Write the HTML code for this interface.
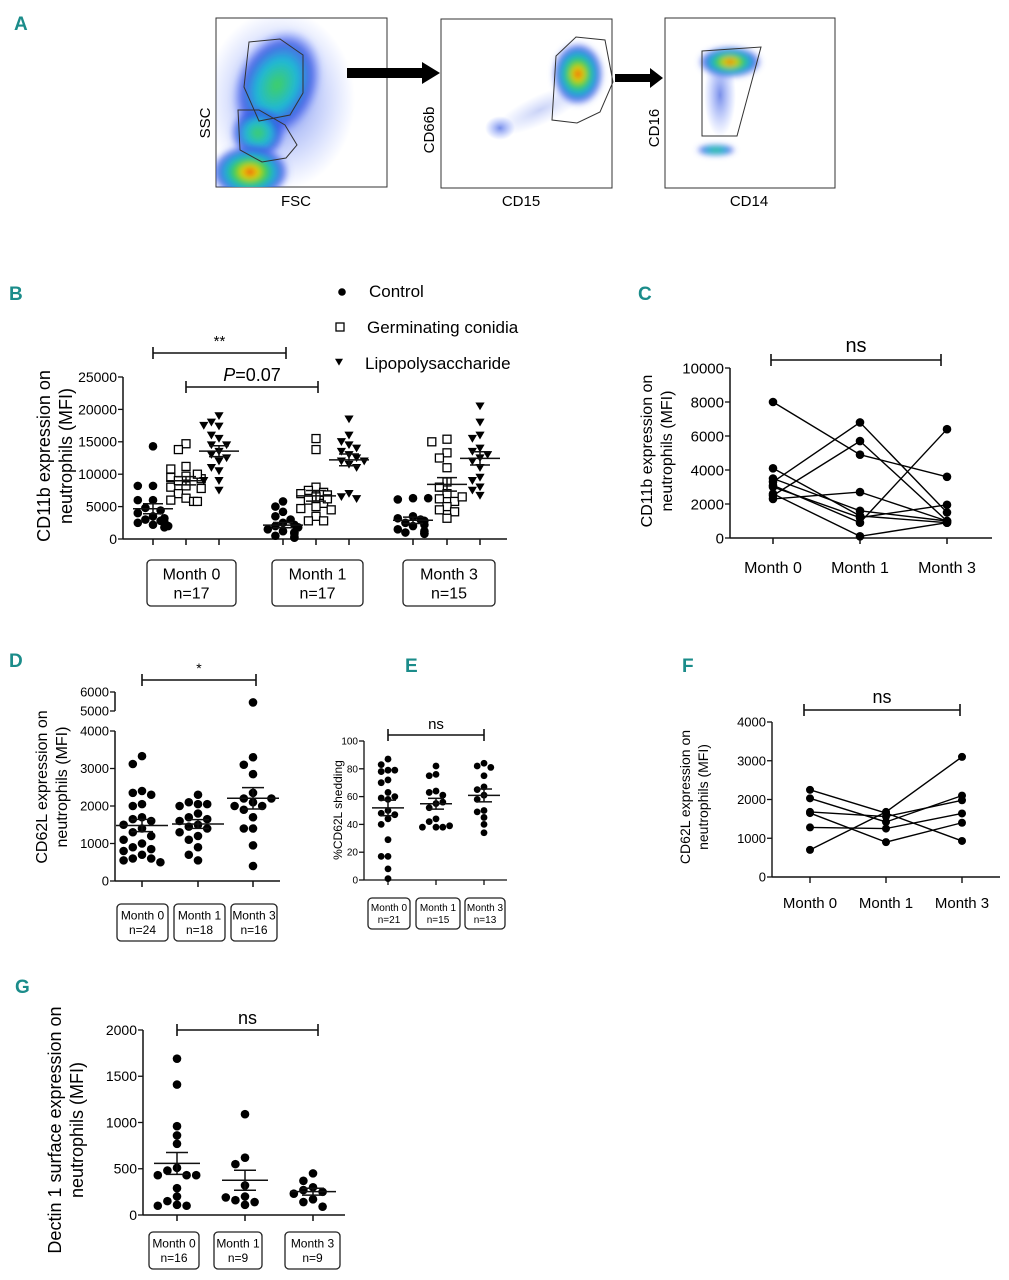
<!DOCTYPE html>
<html><head><meta charset="utf-8"><style>
html,body{margin:0;padding:0;background:#fff;}
svg{display:block;font-family:"Liberation Sans",Arial,sans-serif;}
.lbl{font-family:"Liberation Sans",sans-serif;font-weight:bold;fill:#1b8c8a;font-size:19px;}
</style></head><body>
<svg id="fig" width="1009" height="1280" viewBox="0 0 1009 1280" xmlns="http://www.w3.org/2000/svg">
<defs>
<filter id="blur" x="-50%" y="-50%" width="200%" height="200%"><feGaussianBlur stdDeviation="3"/></filter>
<radialGradient id="dens" cx="50%" cy="50%" r="50%">
<stop offset="0" stop-color="#e01010"/><stop offset="0.18" stop-color="#f5d000"/><stop offset="0.38" stop-color="#3fd040"/><stop offset="0.6" stop-color="#1ab0d8"/><stop offset="0.8" stop-color="#3050e0" stop-opacity="0.8"/><stop offset="1" stop-color="#5070ff" stop-opacity="0"/></radialGradient>
<radialGradient id="dens2" cx="50%" cy="50%" r="50%">
<stop offset="0" stop-color="#40d060"/><stop offset="0.45" stop-color="#20b8d8"/><stop offset="0.75" stop-color="#3050e0" stop-opacity="0.8"/><stop offset="1" stop-color="#5070ff" stop-opacity="0"/></radialGradient>
<radialGradient id="dens3" cx="50%" cy="50%" r="50%">
<stop offset="0" stop-color="#4060e0" stop-opacity="0.7"/><stop offset="1" stop-color="#6080ff" stop-opacity="0"/></radialGradient>
<clipPath id="c1"><rect x="216" y="18" width="171" height="169"/></clipPath>
<clipPath id="c2"><rect x="441" y="19" width="171" height="169"/></clipPath>
<clipPath id="c3"><rect x="665" y="18" width="170" height="170"/></clipPath>
</defs>

<g>
<text class="lbl" x="14" y="30">A</text>
<g>
<rect x="216" y="18" width="171" height="169" fill="#fff" stroke="#333" stroke-width="1"/>
<g clip-path="url(#c1)">
<ellipse cx="280" cy="100" rx="75" ry="90" fill="url(#dens3)"/>
<ellipse cx="277" cy="85" rx="42" ry="58" fill="url(#dens2)" transform="rotate(25 277 85)" filter="url(#blur)"/>
<ellipse cx="258" cy="133" rx="28" ry="27" fill="url(#dens2)" filter="url(#blur)"/>
<ellipse cx="250" cy="172" rx="40" ry="28" fill="url(#dens)" filter="url(#blur)"/>
</g>
<polygon points="249,42 280,39 303,55 303,93 290,115 259,121 244,87" fill="none" stroke="#333" stroke-width="1"/>
<polygon points="238,110 259,110 285,125 297,145 286,158 262,162 240,150" fill="none" stroke="#333" stroke-width="1"/>
<text x="210" y="123" font-size="15" text-anchor="middle" transform="rotate(-90 210 123)">SSC</text>
<text x="296" y="206" font-size="15" text-anchor="middle">FSC</text>
</g>
<polygon points="347,68 422,68 422,62 440,73 422,84 422,78 347,78" fill="#000"/>
<g>
<rect x="441" y="19" width="171" height="169" fill="#fff" stroke="#333"/>
<g clip-path="url(#c2)">
<ellipse cx="500" cy="128" rx="15" ry="12" fill="url(#dens3)"/>
<ellipse cx="540" cy="110" rx="50" ry="15" fill="url(#dens3)" opacity="0.4" transform="rotate(-25 540 110)"/>
<ellipse cx="578" cy="74" rx="26" ry="32" fill="url(#dens)" filter="url(#blur)"/>
</g>
<polygon points="556,56 576,37 605,40 613,82 600,112 577,123 552,120" fill="none" stroke="#333"/>
<text x="434" y="130" font-size="15" text-anchor="middle" transform="rotate(-90 434 130)">CD66b</text>
<text x="521" y="206" font-size="15" text-anchor="middle">CD15</text>
</g>
<polygon points="615,74 650,74 650,68 663,78 650,88 650,82 615,82" fill="#000"/>
<g>
<rect x="665" y="18" width="170" height="170" fill="#fff" stroke="#333"/>
<g clip-path="url(#c3)">
<ellipse cx="720" cy="95" rx="16" ry="42" fill="url(#dens3)"/>
<ellipse cx="730" cy="62" rx="32" ry="16" fill="url(#dens)" filter="url(#blur)"/>
<ellipse cx="716" cy="150" rx="20" ry="6" fill="url(#dens2)" filter="url(#blur)"/>
</g>
<polygon points="702,51 761,47 737,136 702,136" fill="none" stroke="#333"/>
<text x="659" y="128" font-size="15" text-anchor="middle" transform="rotate(-90 659 128)">CD16</text>
<text x="749" y="206" font-size="15" text-anchor="middle">CD14</text>
</g>
</g>

<text class="lbl" x="9" y="300">B</text>
<text class="lbl" x="638" y="300">C</text>
<text class="lbl" x="9" y="667">D</text>
<text class="lbl" x="405" y="672">E</text>
<text class="lbl" x="682" y="672">F</text>
<text class="lbl" x="15" y="993">G</text>
</svg>
<script>
// ---- data ----
const monthLabels = ["Month 0","Month 1","Month 3"];
const bTicks = [0,5000,10000,15000,20000,25000];
const bControl = [
 [14300,8200,8200,6000,6000,4800,4400,4000,3500,3000,2800,2500,2200,2000,1800,2600,3200],
 [5800,5000,4200,3500,3000,2500,2000,1800,1500,1200,1000,800,500,300,200,2200,1000],
 [6300,6100,6300,3500,3200,3000,2800,2500,2200,2000,1500,1200,1000,900,800]];
const bConidia = [
 [14700,13800,11200,10800,9700,9500,9300,8200,8000,7800,7000,6300,6000,5800,5800,10000,9000],
 [15500,13800,8000,7500,7200,7000,6800,6500,6000,5500,5000,4700,4500,3500,2800,2800,6200],
 [15400,15000,13300,12500,11000,8800,8000,7000,6200,5800,5000,4500,4200,3200,6500]];
const bLPS = [
 [19000,18000,17400,17500,15500,14500,14500,13500,13000,12500,12000,11000,10500,9000,9000,7500,16000],
 [18500,16000,15000,14500,14000,13500,13000,12500,12000,12000,11500,11000,7000,6500,6200],
 [20500,18000,16000,15500,14000,13500,13000,12500,12000,11000,9500,9000,8000,7500,6700]];
const bN = ["n=17","n=17","n=15"];
const cTicks = [0,2000,4000,6000,8000,10000];
const cM0 = [8000,4100,3500,3300,3100,2500,2300,2600,3000];
const cM1 = [4900,1300,1600,6800,900,5700,2700,100,1200];
const cM3 = [3600,900,1000,1500,6400,1000,1000,900,1950];
const dTicks = [0,1000,2000,3000,4000];
const dTicksUpper = [5000,6000];
const dVals = [
 [3330,3120,2400,2350,2300,2050,2000,1700,1650,1600,1500,1400,1300,1200,1000,900,850,800,700,600,600,550,500,1100],
 [2300,2050,2100,2050,2000,1800,1700,1650,1600,1500,1450,1400,1300,1200,900,700,550,1100],
 [5450,3300,3100,2850,2350,2200,2100,2000,2000,1900,1700,1400,1400,950,400,2200]];
const dN = ["n=24","n=18","n=16"];
const eTicks = [0,20,40,60,80,100];
const eVals = [
 [87,83,79,79,78,72,70,63,59,58,50,48,47,44,40,29,17,17,8,1,60],
 [82,76,75,64,63,61,55,52,44,42,38,38,38,39,56],
 [84,82,81,75,67,65,61,58,50,49,45,40,34]];
const eN = ["n=21","n=15","n=13"];
const fTicks = [0,1000,2000,3000,4000];
const fM0 = [2250,2030,1680,1650,1280,700];
const fM1 = [1650,1420,1560,900,1250,1680];
const fM3 = [930,2100,1980,1400,1640,3100];
const gTicks = [0,500,1000,1500,2000];
const gVals = [
 [1690,1410,960,860,770,510,480,430,430,430,290,200,150,110,100,100],
 [1090,620,550,320,200,160,140,110,190],
 [450,370,300,270,250,230,170,140,90]];
const gN = ["n=16","n=9","n=9"];

// ---- helpers ----
const NS="http://www.w3.org/2000/svg";
const svg=document.getElementById('fig');
function mk(tag,attrs,parent,txt){const e=document.createElementNS(NS,tag);for(const k in attrs)e.setAttribute(k,attrs[k]);if(txt!==undefined)e.textContent=txt;(parent||svg).appendChild(e);return e;}
function line(p,x1,y1,x2,y2,w){return mk('line',{x1,y1,x2,y2,stroke:'#111','stroke-width':w||1.5},p);}
function lin(d0,d1,r0,r1){return v=>r0+(v-d0)/(d1-d0)*(r1-r0);}
function mean(a){return a.reduce((s,v)=>s+v,0)/a.length;}
function sem(a){const m=mean(a);return Math.sqrt(a.reduce((s,v)=>s+(v-m)*(v-m),0)/(a.length-1))/Math.sqrt(a.length);}
const slots=[0,-8,8,-16,16,-4,4,-12,12];
// beeswarm-style: place each point in the first horizontal slot not colliding (pixel space)
function swarm(ys,scale,r){const placed=[];const out=[];
 ys.forEach(y=>{let off=0;for(const s of slots){const o=s*scale;if(placed.every(q=>Math.hypot(q[0]-o,q[1]-y)>=2*r*0.95)){off=o;break;}off=o;}
  placed.push([off,y]);out.push(off);});return out;}
function yaxis(p,x,y,ticks,fs,fmt){ticks.forEach(t=>{const yy=y(t);line(p,x-5,yy,x,yy,1.3);const tx=mk('text',{x:x-6,y:yy+fs*0.35,'font-size':fs,'text-anchor':'end'},p,fmt?fmt(t):t);
 
 });}
function ylabel(p,x,cy,lines,fs,gap){lines.forEach((s,i)=>{const t=mk('text',{x:x+i*gap,y:cy,'font-size':fs,'text-anchor':'middle',transform:`rotate(-90 ${x+i*gap} ${cy})`},p,s);
 
 });}
function bracket(p,x1,x2,y,txt,fs,ty,italic){line(p,x1,y,x2,y,1.6);line(p,x1,y-6,x1,y+6,1.6);line(p,x2,y-6,x2,y+6,1.6);
 const t=mk('text',{x:(x1+x2)/2,y:ty,'font-size':fs,'text-anchor':'middle'},p);
 if(italic){mk('tspan',{'font-style':'italic'},t,'P');mk('tspan',{},t,txt);}else t.textContent=txt;
 
 }
function mbox(p,x1,x2,y1,y2,l1,l2,fs){const g=mk('g',{},p);
 
 
 mk('rect',{x:x1,y:y1,width:x2-x1,height:y2-y1,rx:4,fill:'#fff',stroke:'#222','stroke-width':1.3},g);
 const cx=(x1+x2)/2,h=y2-y1;
 mk('text',{x:cx,y:y1+h*0.42,'font-size':fs,'text-anchor':'middle'},g,l1);
 mk('text',{x:cx,y:y1+h*0.42+fs*1.2,'font-size':fs,'text-anchor':'middle'},g,l2);}
function dot(p,x,y,r,name){const c=mk('circle',{cx:x,cy:y,r,fill:'#000'},p);
 
 return c;}
function sq(p,x,y,s,name){const c=mk('rect',{x:x-s/2,y:y-s/2,width:s,height:s,fill:'#fff',stroke:'#000','stroke-width':1.3},p);
 
 return c;}
function tri(p,x,y,s,name){const c=mk('polygon',{points:`${x-s},${y-s*0.8} ${x+s},${y-s*0.8} ${x},${y+s*0.9}`,fill:'#000'},p);
 
 return c;}
function meanSem(p,x,vals,y,hw,sw){const m=mean(vals),s=sem(vals);
 line(p,x-hw,y(m),x+hw,y(m),1.5);line(p,x-sw,y(m+s),x+sw,y(m+s),1.5);line(p,x-sw,y(m-s),x+sw,y(m-s),1.5);line(p,x,y(m+s),x,y(m-s),1.5);}

// ---- Panel B ----
(function(){const p=mk('g',{});
 
 
 const y=lin(0,25000,539,377);const X0=123;
 const gx=[[153,186,219],[283,316,349],[413,447,480]];
 line(p,X0,377,X0,539,1.5);line(p,X0,539,507,539,1.5);
 yaxis(p,X0,y,bTicks,14);
 gx.flat().forEach(x=>line(p,x,539,x,545,1.5));
 ylabel(p,50,456,["CD11b expression on","neutrophils (MFI)"],18,22);
 const series=[[bControl,'c'],[bConidia,'s'],[bLPS,'t']];
 series.forEach(([data,k],si)=>data.forEach((vals,gi)=>{const x=gx[gi][si];const off=swarm(vals.map(y),0.95,4.3);
  vals.forEach((v,i)=>{const xx=x+off[i];if(k==='c')dot(p,xx,y(v),4.3,'control-point');else if(k==='s')sq(p,xx,y(v),8,'conidia-point');else tri(p,xx,y(v),4.6,'lps-point');});
  meanSem(p,x,vals,y,20,10);}));
 const bx=[[147,236],[272,363],[403,495]];
 bx.forEach((b,i)=>mbox(p,b[0],b[1],560,606,monthLabels[i],bN[i],16));
 bracket(p,153,286,353,"**",15,346);
 bracket(p,186,318,387,"=0.07",18,381,true);
 const lg=mk('g',{},p);
 
 
 dot(lg,342,292,3.8,'legend-marker-control');mk('text',{x:369,y:297,'font-size':17},lg,'Control');
 sq(lg,340,327,8,'legend-marker-conidia');mk('text',{x:367,y:333,'font-size':17},lg,'Germinating conidia');
 tri(lg,339,362,4,'legend-marker-lps');mk('text',{x:365,y:369,'font-size':17},lg,'Lipopolysaccharide');
})();

// ---- Panel C ----
(function(){const p=mk('g',{});
 
 
 const y=lin(0,10000,538,368);const X0=730;const xs=[773,860,947];
 line(p,X0,368,X0,538,1.5);line(p,X0,538,992,538,1.5);
 yaxis(p,X0,y,cTicks,15);xs.forEach(x=>line(p,x,538,x,544,1.5));
 monthLabels.forEach((m,i)=>mk('text',{x:xs[i],y:573,'font-size':16,'text-anchor':'middle'},p,m));
 ylabel(p,652,451,["CD11b expression on","neutrophils (MFI)"],16,20);
 cM0.forEach((v,i)=>{const pts=[cM0[i],cM1[i],cM3[i]];
  const pl=mk('polyline',{points:pts.map((v,j)=>`${xs[j]},${y(v)}`).join(' '),fill:'none',stroke:'#000','stroke-width':1.4},p);
  
  
  pts.forEach((v,j)=>dot(p,xs[j],y(v),4.3,'subject-point'));});
 bracket(p,771,941,360,"ns",20,352);
})();

// ---- Panel D ----
(function(){const p=mk('g',{});
 
 
 const yl=lin(0,4000,881,731);const yu=lin(5000,6000,711,692);
 const y=v=>v>4500?yu(v):yl(v);const X0=115;const xs=[142,198,253];
 line(p,X0,731,X0,881,1.5);line(p,X0,692,X0,711,1.5);line(p,X0,881,280,881,1.5);
 yaxis(p,X0,yl,dTicks,13);yaxis(p,X0,yu,dTicksUpper,13);
 xs.forEach(x=>line(p,x,881,x,887,1.5));
 ylabel(p,47,787,["CD62L expression on","neutrophils (MFI)"],16,20);
 dVals.forEach((vals,gi)=>{const off=swarm(vals.map(y),1.15,4.3);vals.forEach((v,i)=>dot(p,xs[gi]+off[i],y(v),4.3,'cd62l-point'));meanSem(p,xs[gi],vals,yl,26,11);});
 [[117,168],[174,225],[231,277]].forEach((b,i)=>mbox(p,b[0],b[1],904,941,monthLabels[i],dN[i],12));
 bracket(p,142,256,680,"*",14,673);
})();

// ---- Panel E ----
(function(){const p=mk('g',{});
 
 
 const y=lin(0,100,880,741);const X0=364;const xs=[388,436,484];
 line(p,X0,741,X0,880,1.3);line(p,X0,880,507,880,1.3);
 yaxis(p,X0,y,eTicks,10);xs.forEach(x=>line(p,x,880,x,885,1.3));
 ylabel(p,342,810,["%CD62L shedding"],12,0);
 eVals.forEach((vals,gi)=>{const off=swarm(vals.map(y),0.85,3.4);vals.forEach((v,i)=>dot(p,xs[gi]+off[i],y(v),3.4,'shedding-point'));meanSem(p,xs[gi],vals,y,16,8);});
 [[368,410],[416,460],[465,505]].forEach((b,i)=>mbox(p,b[0],b[1],898,929,monthLabels[i],eN[i],10));
 bracket(p,388,484,735,"ns",15,729);
})();

// ---- Panel F ----
(function(){const p=mk('g',{});
 
 
 const y=lin(0,4000,877,722);const X0=772;const xs=[810,886,962];
 line(p,X0,722,X0,877,1.4);line(p,X0,877,1000,877,1.4);
 yaxis(p,X0,y,fTicks,13);xs.forEach(x=>line(p,x,877,x,883,1.4));
 monthLabels.forEach((m,i)=>mk('text',{x:xs[i],y:908,'font-size':15,'text-anchor':'middle'},p,m));
 ylabel(p,690,797,["CD62L expression on","neutrophils (MFI)"],14,18);
 fM0.forEach((v,i)=>{const pts=[fM0[i],fM1[i],fM3[i]];
  const pl=mk('polyline',{points:pts.map((v,j)=>`${xs[j]},${y(v)}`).join(' '),fill:'none',stroke:'#000','stroke-width':1.4},p);
  
  
  pts.forEach((v,j)=>dot(p,xs[j],y(v),4,'subject-point'));});
 bracket(p,804,960,710,"ns",18,703);
})();

// ---- Panel G ----
(function(){const p=mk('g',{});
 
 
 const y=lin(0,2000,1215,1030);const X0=143;const xs=[177,245,313];
 line(p,X0,1030,X0,1215,1.5);line(p,X0,1215,345,1215,1.5);
 yaxis(p,X0,y,gTicks,14);xs.forEach(x=>line(p,x,1215,x,1221,1.5));
 ylabel(p,61,1130,["Dectin 1 surface expression on","neutrophils (MFI)"],18,22);
 gVals.forEach((vals,gi)=>{const off=swarm(vals.map(y),1.2,4.3);vals.forEach((v,i)=>dot(p,xs[gi]+off[i],y(v),4.3,'dectin-point'));meanSem(p,xs[gi],vals,y,23,11);});
 [[149,199],[214,262],[285,340]].forEach((b,i)=>mbox(p,b[0],b[1],1232,1269,monthLabels[i],gN[i],12));
 bracket(p,177,318,1030,"ns",18,1024);
})();
</script>
</body></html>
